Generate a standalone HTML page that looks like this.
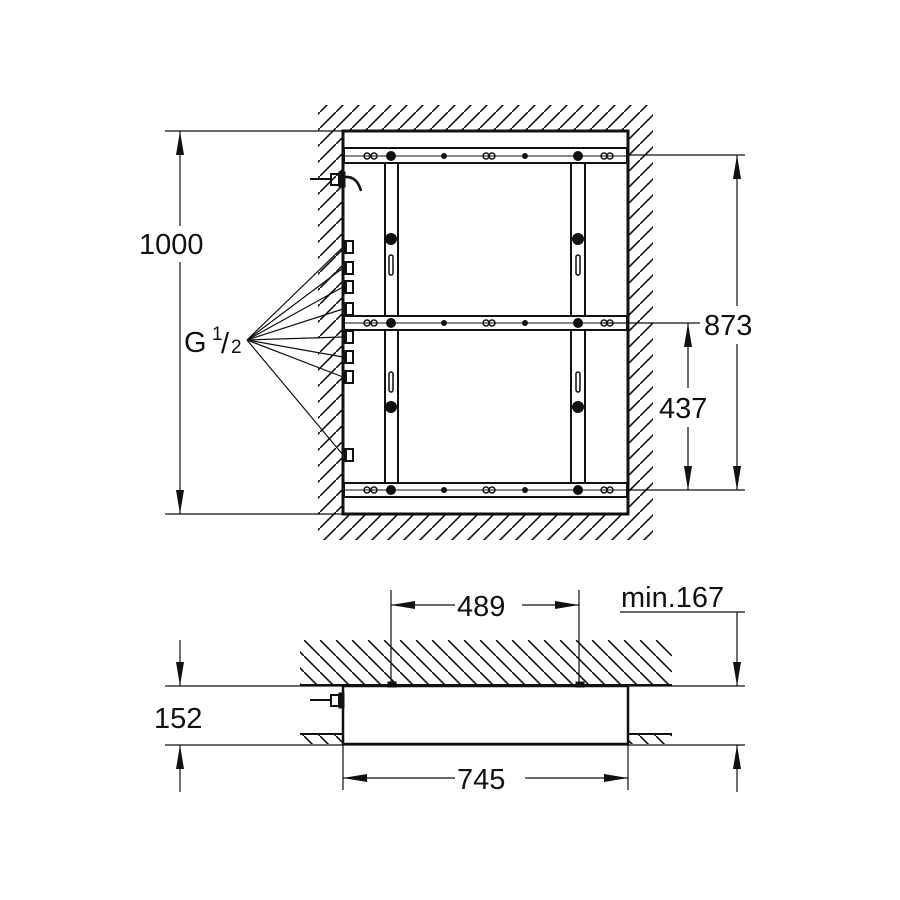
<!DOCTYPE html>
<html><head><meta charset="utf-8"><style>
html,body{margin:0;padding:0;background:#fff;width:900px;height:900px;overflow:hidden}
text{font-family:"Liberation Sans",sans-serif;fill:#111}
</style></head><body>
<svg width="900" height="900" viewBox="0 0 900 900" xmlns="http://www.w3.org/2000/svg">
<defs>
<pattern id="h1" width="16" height="16" patternUnits="userSpaceOnUse">
<path d="M-2,18 L18,-2" stroke="#111" stroke-width="1.6"/>
</pattern>
<pattern id="h2" width="16" height="16" patternUnits="userSpaceOnUse">
<path d="M-2,-2 L18,18" stroke="#111" stroke-width="1.6"/>
</pattern>
</defs>
<g fill="none" stroke="#111">
<rect x="318" y="105" width="335" height="26" fill="url(#h1)" stroke="none"/>
<rect x="318" y="131" width="25" height="409" fill="url(#h1)" stroke="none"/>
<rect x="628" y="131" width="25" height="409" fill="url(#h1)" stroke="none"/>
<rect x="343" y="514" width="285" height="26" fill="url(#h1)" stroke="none"/>
<rect x="343" y="131" width="285" height="383" fill="#fff" stroke="#111" stroke-width="3"/>
<g stroke-width="2">
<rect x="344" y="148" width="283" height="15"/>
<rect x="344" y="316" width="283" height="14"/>
<rect x="344" y="483" width="283" height="14"/>
<rect x="385" y="163" width="13" height="153"/>
<rect x="385" y="330" width="13" height="153"/>
<rect x="571" y="163" width="14" height="153"/>
<rect x="571" y="330" width="14" height="153"/>
</g>
<g stroke-width="1">
<line x1="344" y1="156" x2="627" y2="156"/><line x1="344" y1="323" x2="627" y2="323"/><line x1="344" y1="490" x2="627" y2="490"/>
</g>
<g fill="#111" stroke="none">
<circle cx="391" cy="156" r="5"/><circle cx="578" cy="156" r="5"/>
<circle cx="391" cy="323" r="5"/><circle cx="578" cy="323" r="5"/>
<circle cx="391" cy="490" r="5"/><circle cx="578" cy="490" r="5"/>
<circle cx="444" cy="156" r="3"/><circle cx="525" cy="156" r="3"/>
<circle cx="444" cy="323" r="3"/><circle cx="525" cy="323" r="3"/>
<circle cx="444" cy="490" r="3"/><circle cx="525" cy="490" r="3"/>
<circle cx="391" cy="239" r="6"/><circle cx="578" cy="239" r="6"/>
<circle cx="391" cy="407" r="6"/><circle cx="578" cy="407" r="6"/>
</g>
<g stroke-width="1.5">
<circle cx="367" cy="156" r="3"/><circle cx="374" cy="156" r="3"/>
<circle cx="486" cy="156" r="3"/><circle cx="492" cy="156" r="3"/>
<circle cx="604" cy="156" r="3"/><circle cx="610" cy="156" r="3"/>
<circle cx="367" cy="323" r="3"/><circle cx="374" cy="323" r="3"/>
<circle cx="486" cy="323" r="3"/><circle cx="492" cy="323" r="3"/>
<circle cx="604" cy="323" r="3"/><circle cx="610" cy="323" r="3"/>
<circle cx="367" cy="490" r="3"/><circle cx="374" cy="490" r="3"/>
<circle cx="486" cy="490" r="3"/><circle cx="492" cy="490" r="3"/>
<circle cx="604" cy="490" r="3"/><circle cx="610" cy="490" r="3"/>
<rect x="389" y="255" width="4" height="20" rx="2"/><rect x="576" y="255" width="4" height="20" rx="2"/>
<rect x="389" y="372" width="4" height="20" rx="2"/><rect x="576" y="372" width="4" height="20" rx="2"/>
</g>
<path d="M310,179 H331" stroke-width="2"/>
<rect x="331" y="174" width="8" height="11" stroke-width="2"/>
<rect x="339" y="172" width="6" height="15" fill="#111"/>
<path d="M345,177 Q357,176 361,191" stroke-width="2.5"/>
<g stroke-width="2">
<rect x="344" y="241" width="9" height="12"/><rect x="344" y="262" width="9" height="12"/><rect x="344" y="281" width="9" height="12"/><rect x="344" y="303" width="9" height="12"/>
<rect x="344" y="331" width="9" height="12"/><rect x="344" y="351" width="9" height="12"/><rect x="344" y="371" width="9" height="12"/><rect x="344" y="449" width="9" height="12"/>
</g>
<g fill="#111" stroke="none">
<rect x="343" y="240" width="4" height="14"/><rect x="343" y="261" width="4" height="14"/><rect x="343" y="280" width="4" height="14"/><rect x="343" y="302" width="4" height="14"/>
<rect x="343" y="330" width="4" height="14"/><rect x="343" y="350" width="4" height="14"/><rect x="343" y="370" width="4" height="14"/><rect x="343" y="448" width="4" height="14"/>
</g>
<g stroke-width="1.2">
<line x1="247" y1="340" x2="343" y2="247"/><line x1="247" y1="340" x2="343" y2="268"/>
<line x1="247" y1="340" x2="343" y2="287"/><line x1="247" y1="340" x2="343" y2="309"/>
<line x1="247" y1="340" x2="343" y2="337"/><line x1="247" y1="340" x2="343" y2="357"/>
<line x1="247" y1="340" x2="343" y2="377"/><line x1="247" y1="340" x2="343" y2="455"/>
</g>
<g stroke-width="1.2">
<line x1="165" y1="131" x2="343" y2="131"/><line x1="165" y1="514" x2="343" y2="514"/>
<line x1="180" y1="131" x2="180" y2="226"/><line x1="180" y1="262" x2="180" y2="514"/>
<line x1="628" y1="155" x2="745" y2="155"/><line x1="600" y1="323" x2="700" y2="323"/><line x1="628" y1="490" x2="745" y2="490"/>
<line x1="737" y1="155" x2="737" y2="306"/><line x1="737" y1="344" x2="737" y2="490"/>
<line x1="688" y1="323" x2="688" y2="388"/><line x1="688" y1="427" x2="688" y2="490"/>
</g>
</g>
<g fill="#111">
<path d="M180,131 l-4,24 h8z"/><path d="M180,514 l-4,-24 h8z"/>
<path d="M737,155 l-4,24 h8z"/><path d="M737,490 l-4,-24 h8z"/>
<path d="M688,323 l-4,24 h8z"/><path d="M688,490 l-4,-24 h8z"/>
</g>
<text x="139" y="254" font-size="29">1000</text>
<text x="704" y="335" font-size="29">873</text>
<text x="659" y="418" font-size="29">437</text>
<text x="184" y="352" font-size="29">G</text>
<text x="212" y="340" font-size="19">1</text>
<text x="221" y="353" font-size="29">/</text>
<text x="231" y="353" font-size="19">2</text>
<g fill="none" stroke="#111">
<rect x="300" y="640" width="372" height="46" fill="url(#h2)" stroke="none"/>
<rect x="300" y="735" width="43" height="9" fill="url(#h2)" stroke="none"/>
<rect x="628" y="735" width="44" height="9" fill="url(#h2)" stroke="none"/>
<line x1="300" y1="685" x2="672" y2="685" stroke-width="2"/>
<line x1="300" y1="734" x2="343" y2="734" stroke-width="2"/><line x1="628" y1="734" x2="672" y2="734" stroke-width="2"/>
<line x1="165" y1="686" x2="745" y2="686" stroke-width="1.2"/>
<line x1="165" y1="745" x2="745" y2="745" stroke-width="1.2"/>
<rect x="343" y="686" width="285" height="58" fill="#fff" stroke-width="2.5"/>
<rect x="388" y="682" width="8" height="5" fill="#111"/><rect x="576" y="682" width="8" height="5" fill="#111"/>
<line x1="310" y1="700" x2="331" y2="700" stroke-width="2"/>
<rect x="331" y="695" width="8" height="11" stroke-width="2"/><rect x="339" y="693" width="5" height="15" fill="#111"/>
<g stroke-width="1.2">
<line x1="391" y1="590" x2="391" y2="686"/><line x1="579" y1="590" x2="579" y2="686"/>
<line x1="391" y1="605" x2="455" y2="605"/><line x1="522" y1="605" x2="579" y2="605"/>
<line x1="620" y1="612" x2="745" y2="612"/><line x1="737" y1="612" x2="737" y2="686"/>
<line x1="737" y1="745" x2="737" y2="792"/>
<line x1="180" y1="640" x2="180" y2="686"/><line x1="180" y1="745" x2="180" y2="792"/>
<line x1="343" y1="744" x2="343" y2="790"/><line x1="628" y1="744" x2="628" y2="790"/>
<line x1="343" y1="778" x2="455" y2="778"/><line x1="525" y1="778" x2="628" y2="778"/>
</g>
</g>
<g fill="#111">
<path d="M391,605 l24,-4 v8z"/><path d="M579,605 l-24,-4 v8z"/>
<path d="M343,778 l24,-4 v8z"/><path d="M628,778 l-24,-4 v8z"/>
<path d="M737,686 l-4,-24 h8z"/><path d="M737,745 l-4,24 h8z"/>
<path d="M180,686 l-4,-24 h8z"/><path d="M180,745 l-4,24 h8z"/>
</g>
<text x="457" y="616" font-size="29">489</text>
<text x="621" y="607" font-size="29">min.167</text>
<text x="154" y="728" font-size="29">152</text>
<text x="457" y="789" font-size="29">745</text>
</svg>
</body></html>
